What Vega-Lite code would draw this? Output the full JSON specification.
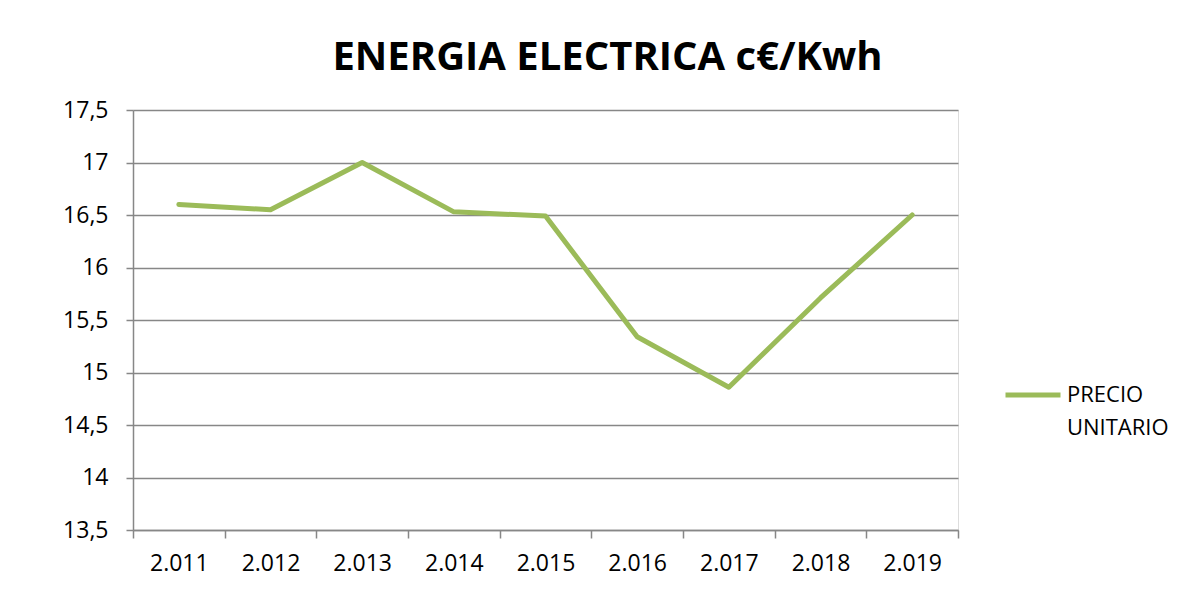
{
  "$schema": "https://vega.github.io/schema/vega-lite/v6.json",
  "width": 825,
  "height": 420,
  "autosize": {"type": "none"},
  "padding": {"left": 133, "top": 110, "right": 245, "bottom": 82},
  "background": "white",
  "config": {
    "style": {"guide-label": {"lineHeight": 33}}
  },
  "title": {
    "text": "ENERGIA ELECTRICA c€/Kwh",
    "font": "Open Sans",
    "fontSize": 40,
    "fontWeight": "bold",
    "color": "#000000",
    "anchor": "middle",
    "frame": "group",
    "dx": 62,
    "offset": 21
  },
  "data": {
    "values": [
      {"anio": "2.011", "precio": 16.6, "serie": "PRECIO UNITARIO"},
      {"anio": "2.012", "precio": 16.55, "serie": "PRECIO UNITARIO"},
      {"anio": "2.013", "precio": 17.0, "serie": "PRECIO UNITARIO"},
      {"anio": "2.014", "precio": 16.53, "serie": "PRECIO UNITARIO"},
      {"anio": "2.015", "precio": 16.49, "serie": "PRECIO UNITARIO"},
      {"anio": "2.016", "precio": 15.34, "serie": "PRECIO UNITARIO"},
      {"anio": "2.017", "precio": 14.86, "serie": "PRECIO UNITARIO"},
      {"anio": "2.018", "precio": 15.71, "serie": "PRECIO UNITARIO"},
      {"anio": "2.019", "precio": 16.5, "serie": "PRECIO UNITARIO"}
    ]
  },
  "mark": {"type": "line", "strokeWidth": 5, "strokeJoin": "round", "strokeCap": "round"},
  "encoding": {
    "x": {
      "field": "anio",
      "type": "nominal",
      "sort": null,
      "scale": {"type": "band", "paddingInner": 0, "paddingOuter": 0},
      "axis": {
        "title": null,
        "labelAngle": 0,
        "tickBand": "extent",
        "grid": false,
        "domainColor": "#878787",
        "domainWidth": 1.5,
        "tickColor": "#878787",
        "tickWidth": 1.5,
        "tickSize": 8,
        "labelPadding": 14,
        "labelFont": "Open Sans",
        "labelFontSize": 23,
        "labelColor": "#000000"
      }
    },
    "y": {
      "field": "precio",
      "type": "quantitative",
      "scale": {"domain": [13.5, 17.5], "zero": false, "nice": false},
      "axis": {
        "title": null,
        "values": [13.5, 14, 14.5, 15, 15.5, 16, 16.5, 17, 17.5],
        "labelExpr": "replace(format(datum.value, '.1~f'), '.', ',')",
        "grid": true,
        "gridColor": "#878787",
        "gridWidth": 1.5,
        "domainColor": "#878787",
        "domainWidth": 1.5,
        "tickColor": "#878787",
        "tickWidth": 1.5,
        "tickSize": 7,
        "labelPadding": 18,
        "labelFont": "Open Sans",
        "labelFontSize": 23,
        "labelColor": "#000000"
      }
    },
    "color": {
      "field": "serie",
      "type": "nominal",
      "scale": {"range": ["#9BBB59"]},
      "legend": {
        "title": null,
        "orient": "none",
        "legendX": 870,
        "legendY": 255,
        "padding": 0,
        "symbolType": "stroke",
        "symbolSize": 3025,
        "symbolStrokeWidth": 5,
        "labelOffset": 4,
        "labelFont": "Open Sans",
        "labelFontSize": 22,
        "labelColor": "#000000",
        "labelLimit": 300,
        "labelBaseline": "middle",
        "labelExpr": "['PRECIO', 'UNITARIO']"
      }
    }
  }
}
